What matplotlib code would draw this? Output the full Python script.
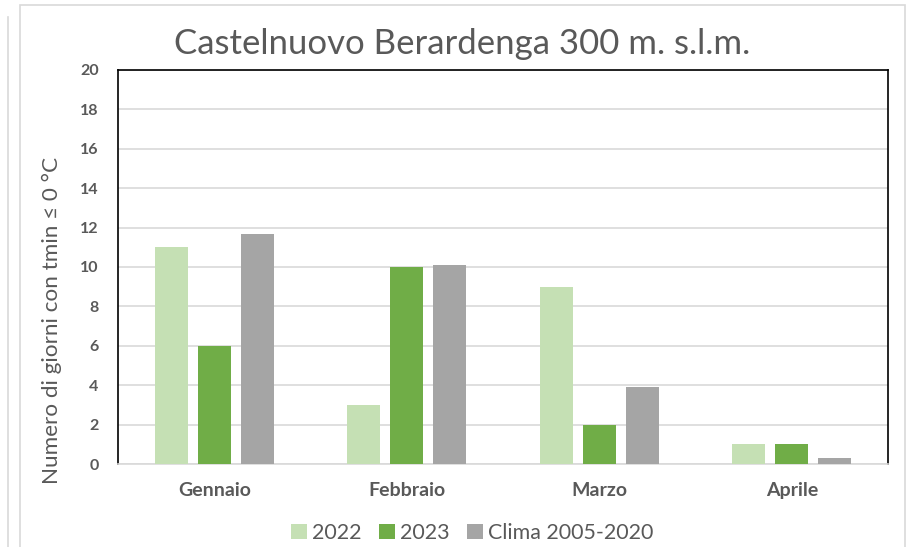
import numpy as np
import matplotlib.pyplot as plt
from matplotlib.patches import Rectangle
from matplotlib.lines import Line2D

months = ["Gennaio", "Febbraio", "Marzo", "Aprile"]
v2022 = [11, 3, 9, 1]
v2023 = [6, 10, 2, 1]
clima = [11.7, 10.1, 3.9, 0.3]
series = ["2022", "2023", "Clima 2005-2020"]
colors = ["#C5E0B4", "#70AD47", "#A5A5A5"]

plt.rcParams['font.family'] = ['Lato', 'DejaVu Sans']
txt = "#595959"

fig = plt.figure(figsize=(9.06, 5.47), dpi=100)
ax = fig.add_axes([118 / 906, 1 - 464 / 547, 770 / 906, 394 / 547])

x = np.arange(len(months))
w = 0.172
step = 0.223
for i, (vals, c, lab) in enumerate(zip([v2022, v2023, clima], colors, series)):
    ax.bar(x + (i - 1) * step, vals, width=w, color=c, label=lab, zorder=3)

ax.set_xlim(-0.5, 3.5)
ax.set_ylim(0, 20)
ax.set_yticks(range(0, 21, 2))
ax.set_xticks(x)
ax.set_xticklabels(months)
ax.grid(axis='y', color="#D9D9D9", linewidth=1.2, zorder=0)
ax.tick_params(length=0, colors=txt, labelsize=11.5, pad=14)
ax.tick_params(axis='x', labelsize=14, pad=13)
for lbl in ax.get_xticklabels() + ax.get_yticklabels():
    lbl.set_fontweight('bold')
for s in ['left', 'top', 'right']:
    ax.spines[s].set_color('black')
    ax.spines[s].set_linewidth(1.2)
ax.spines['bottom'].set_color("#D9D9D9")
ax.spines['bottom'].set_linewidth(1.2)

fig.text(462 / 906, 1 - 44 / 547, "Castelnuovo Berardenga 300 m. s.l.m.",
         ha='center', va='center', fontsize=25, color=txt)
fig.text(52 / 906, 1 - 320 / 547, "Numero di giorni con tmin \u2264 0 \u00b0C",
         rotation=90, ha='center', va='center', fontsize=16.2, color=txt)

ax.legend(loc='center', bbox_to_anchor=(472 / 906, 1 - 533 / 547),
          bbox_transform=fig.transFigure, ncol=3, frameon=False,
          fontsize=15.4, labelcolor=txt, handlelength=0.75, handleheight=0.75,
          handletextpad=0.25, columnspacing=0.8)

# outer frames of the chart area
fig.add_artist(Rectangle((20 / 906, -0.01), 885 / 906, 1 - 5 / 547 + 0.01,
                         transform=fig.transFigure, fill=False,
                         edgecolor="#D9D9D9", linewidth=1.2))
fig.add_artist(Line2D([8 / 906, 8 / 906], [0, 1 - 17 / 547],
                      transform=fig.transFigure, color="#D9D9D9", linewidth=1.2))

fig.savefig("out.png", dpi=100)
